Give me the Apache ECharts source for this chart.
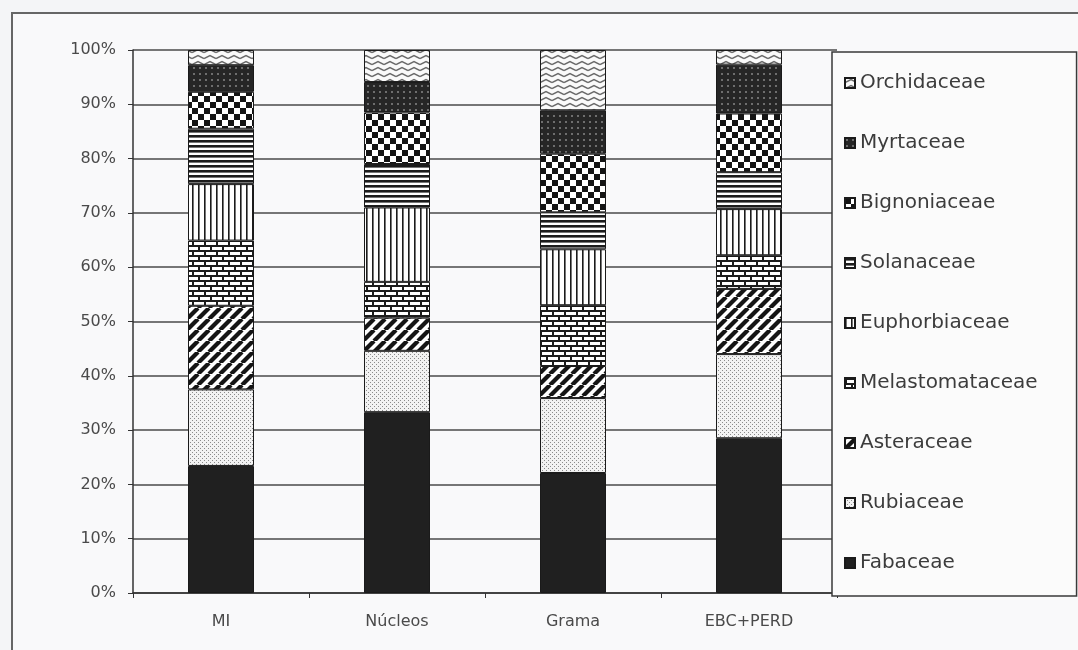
<!DOCTYPE html>
<html>
<head>
<meta charset="utf-8">
<script src="https://cdn.jsdelivr.net/npm/echarts@6/dist/echarts.min.js"></script>
<style>
  html, body { margin: 0; padding: 0; background: #f4f5f7; }
  #frame { position: absolute; left: 11px; top: 12px; width: 1100px; height: 700px; border: 2px solid #666; background: #f9f9fa; }
  #chart { position: absolute; left: 0; top: 0; width: 1078px; height: 650px; }
</style>
</head>
<body>
<div id="frame"></div>
<div id="chart"></div>
<script>
// categories (x axis) and families, bottom of the stack first
const sites = ["MI", "Núcleos", "Grama", "EBC+PERD"];
const families = ["Fabaceae", "Rubiaceae", "Asteraceae", "Melastomataceae", "Euphorbiaceae",
  "Solanaceae", "Bignoniaceae", "Myrtaceae", "Orchidaceae"];

// share (%) of each family per site
const fabaceae        = [23.4, 33.3, 22.1, 28.5];
const rubiaceae       = [14.1, 11.3, 13.8, 15.5];
const asteraceae      = [15.4, 6.1, 5.9, 12.0];
const melastomataceae = [12.0, 6.6, 11.2, 6.2];
const euphorbiaceae   = [10.4, 13.7, 10.3, 8.5];
const solanaceae      = [10.2, 8.0, 6.8, 6.8];
const bignoniaceae    = [6.8, 9.5, 10.8, 10.8];
const myrtaceae       = [4.9, 5.6, 8.0, 9.0];
const orchidaceae     = [2.8, 5.9, 11.1, 2.7];

const values = [fabaceae, rubiaceae, asteraceae, melastomataceae, euphorbiaceae,
  solanaceae, bignoniaceae, myrtaceae, orchidaceae];

// little canvas tiles for the black & white hatch fills
function tile(w, h, draw) {
  const c = document.createElement("canvas");
  c.width = w; c.height = h;
  const g = c.getContext("2d");
  draw(g, w, h);
  return { image: c, repeat: "repeat" };
}

const fills = [
  // Fabaceae: solid
  "#202020",
  // Rubiaceae: fine stipple
  tile(4, 4, (g) => {
    g.fillStyle = "#f2f2f2"; g.fillRect(0, 0, 4, 4);
    g.fillStyle = "#8a8a8a"; g.fillRect(0, 0, 1, 1); g.fillRect(2, 2, 1, 1);
  }),
  // Asteraceae: wide diagonal stripes
  tile(11, 11, (g) => {
    g.fillStyle = "#fff"; g.fillRect(0, 0, 11, 11);
    g.strokeStyle = "#151515"; g.lineWidth = 4.2;
    [-11, 0, 11].forEach((o) => { g.beginPath(); g.moveTo(o, 11); g.lineTo(o + 11, 0); g.stroke(); });
  }),
  // Melastomataceae: bricks
  tile(12, 10, (g) => {
    g.fillStyle = "#fff"; g.fillRect(0, 0, 12, 10);
    g.fillStyle = "#1c1c1c";
    g.fillRect(0, 0, 12, 2); g.fillRect(0, 5, 12, 2);
    g.fillRect(0, 0, 2, 5); g.fillRect(6, 5, 2, 5);
  }),
  // Euphorbiaceae: vertical lines
  tile(6, 2, (g) => {
    g.fillStyle = "#fff"; g.fillRect(0, 0, 6, 2);
    g.fillStyle = "#1c1c1c"; g.fillRect(0, 0, 1.6, 2);
  }),
  // Solanaceae: horizontal lines
  tile(2, 5, (g) => {
    g.fillStyle = "#fff"; g.fillRect(0, 0, 2, 5);
    g.fillStyle = "#1c1c1c"; g.fillRect(0, 0, 2, 2.6);
  }),
  // Bignoniaceae: large checker
  tile(12, 12, (g) => {
    g.fillStyle = "#fff"; g.fillRect(0, 0, 12, 12);
    g.fillStyle = "#141414"; g.fillRect(0, 0, 6, 6); g.fillRect(6, 6, 6, 6);
  }),
  // Myrtaceae: dark with grey dots
  tile(6, 6, (g) => {
    g.fillStyle = "#262626"; g.fillRect(0, 0, 6, 6);
    g.fillStyle = "#6e6e6e"; g.fillRect(1, 1, 2, 2);
  }),
  // Orchidaceae: zigzag waves
  tile(12, 6, (g) => {
    g.fillStyle = "#fafafa"; g.fillRect(0, 0, 12, 6);
    g.strokeStyle = "#6a6a6a"; g.lineWidth = 1.5;
    g.beginPath(); g.moveTo(0, 4.5); g.lineTo(6, 1.5); g.lineTo(12, 4.5); g.stroke();
  }),
];

const font = "'DejaVu Sans', 'Liberation Sans', sans-serif";
const chart = echarts.init(document.getElementById("chart"));

chart.setOption({
  backgroundColor: "transparent",
  animation: false,
  grid: { left: 133, right: 241, top: 50, bottom: 57 },
  legend: {
    orient: "vertical",
    left: 832,
    top: 52,
    data: families.slice().reverse(),
    icon: "rect",
    itemWidth: 10,
    itemHeight: 10,
    itemGap: 40,
    padding: [21, 39, 23, 12],
    backgroundColor: "#fbfbfb",
    borderColor: "#3a3a3a",
    borderWidth: 1.5,
    textStyle: { fontFamily: font, fontSize: 20, color: "#3c3c3c", lineHeight: 20 },
  },
  xAxis: {
    type: "category",
    data: sites,
    axisLine: { lineStyle: { color: "#333", width: 1.5 } },
    axisTick: { show: true, length: 5, lineStyle: { color: "#333" } },
    axisLabel: { fontFamily: font, fontSize: 16, color: "#4a4a4a", margin: 21 },
  },
  yAxis: {
    type: "value",
    min: 0,
    max: 100,
    interval: 10,
    axisLine: { show: true, lineStyle: { color: "#333", width: 1.5 } },
    axisTick: { show: true, length: 5, lineStyle: { color: "#333" } },
    axisLabel: { fontFamily: font, fontSize: 16, color: "#4a4a4a", formatter: "{value}%", margin: 17 },
    splitLine: { lineStyle: { color: "#4a4a4a", width: 1.5 } },
  },
  series: families.map((name, i) => ({
    name: name,
    type: "bar",
    stack: "total",
    barWidth: 66,
    data: values[i],
    itemStyle: { color: fills[i], borderColor: "#1a1a1a", borderWidth: 1 },
  })),
});
</script>
</body>
</html>
